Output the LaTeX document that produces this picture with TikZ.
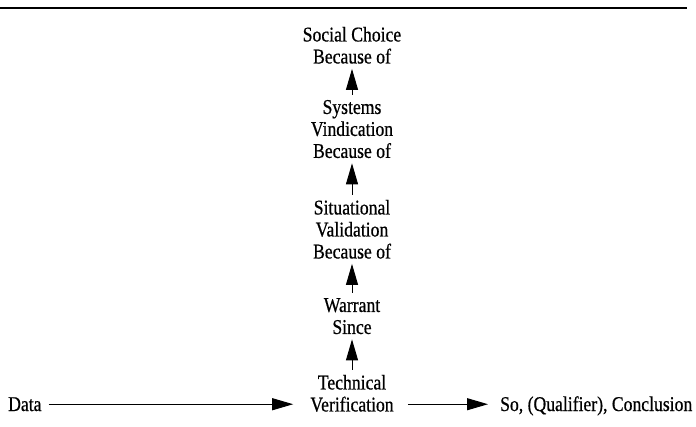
\documentclass[tikz,border=0pt]{standalone}
\usepackage{fontspec}
\setmainfont{Liberation Serif}[FakeStretch=0.84,FakeBold=0.6]
\usetikzlibrary{arrows.meta}

\begin{document}
\begin{tikzpicture}[x=1pt,y=-1pt,
    every node/.style={font=\fontsize{21}{22}\selectfont, align=center, inner sep=0pt},
    arr/.style={-{Triangle[length=21pt,width=12pt]}, line width=1pt},
    uparr/.style={arr, shorten <=5pt, shorten >=5pt}]
    \useasboundingbox (0,0) rectangle (696,427);
    \pgfmathsetmacro{\mid}{352}
    \pgfmathsetmacro{\base}{411}
    \draw[line width=1.6pt] (0,8) -- (687,8);
    \node[anchor=north] (social) at (\mid,26.7) {Social Choice\\Because of};
    \node[anchor=north] (systems) at (\mid,99.8) {Systems\\Vindication\\Because of};
    \node[anchor=north] (situation) at (\mid,199.7) {Situational\\Validation\\Because of};
    \node[anchor=north] (warrant) at (\mid,298) {Warrant\\Since};
    \node[anchor=north] (tech) at (\mid,374.7) {Technical\\Verification};
    \node[anchor=base west] (data) at (8,\base) {Data};
    \node[anchor=base west] (concl) at (500,\base) {So, (Qualifier), Conclusion};
    \draw[uparr] (systems.north) -- (social.south);
    \draw[uparr] (situation.north) -- (systems.south);
    \draw[uparr] (warrant.north) -- (situation.south);
    \draw[uparr] (tech.north) -- (warrant.south);
    \draw[arr, shorten <=7pt, shorten >=17pt] (data.east) -- (data.east -| tech.west);
    \draw[arr, shorten <=14pt, shorten >=12pt] (tech.east |- data.east) -- (concl.west |- data.east);
\end{tikzpicture}
\end{document}
